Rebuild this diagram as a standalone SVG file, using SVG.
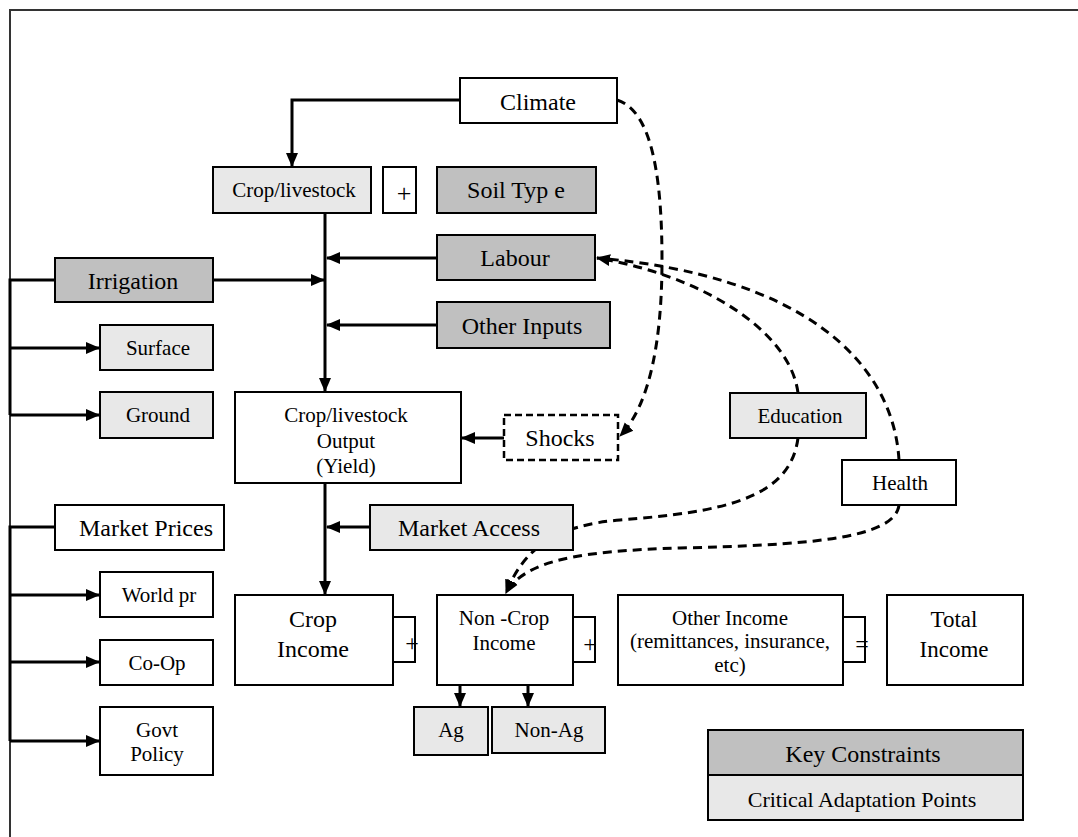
<svg xmlns="http://www.w3.org/2000/svg" width="1078" height="837" viewBox="0 0 1078 837">
<defs>
<style>
.bx{stroke:#000;stroke-width:2;fill:#fff}
.dk{fill:#c0c0c0}
.lt{fill:#e8e8e8}
.t{font-family:"Liberation Serif","Times New Roman",serif;fill:#000;text-anchor:middle}
.b{font-size:24px}
.s{font-size:21px}
.c{fill:none;stroke:#000;stroke-width:3}
.d{fill:none;stroke:#000;stroke-width:3;stroke-dasharray:9 6}
</style>
<marker id="ah" viewBox="0 0 14 14" refX="13" refY="7" markerWidth="14" markerHeight="14" markerUnits="userSpaceOnUse" orient="auto">
<path d="M0,1 L14,7 L0,13 z" fill="#000"/>
</marker>
</defs>
<rect width="1078" height="837" fill="#fff"/>
<rect x="10" y="10" width="1100" height="900" fill="none" stroke="#333" stroke-width="2"/>

<g id="connectors">
<path class="c" d="M460,100 H292 V166" marker-end="url(#ah)"/>
<path class="c" d="M325,213 V391" marker-end="url(#ah)"/>
<path class="c" d="M437,258 H327" marker-end="url(#ah)"/>
<path class="c" d="M437,325 H327" marker-end="url(#ah)"/>
<path class="c" d="M213,280 H324" marker-end="url(#ah)"/>
<path class="c" d="M55,280 H10 V415"/>
<path class="c" d="M10,348 H99" marker-end="url(#ah)"/>
<path class="c" d="M10,415 H99" marker-end="url(#ah)"/>
<path class="c" d="M504,438 H462" marker-end="url(#ah)"/>
<path class="c" d="M325,483 V594" marker-end="url(#ah)"/>
<path class="c" d="M370,527 H327" marker-end="url(#ah)"/>
<path class="c" d="M55,527 H10 V741"/>
<path class="c" d="M10,595 H99" marker-end="url(#ah)"/>
<path class="c" d="M10,662 H99" marker-end="url(#ah)"/>
<path class="c" d="M10,741 H99" marker-end="url(#ah)"/>
<path class="c" d="M460,685 V706" marker-end="url(#ah)"/>
<path class="c" d="M528,685 V706" marker-end="url(#ah)"/>
<path class="d" d="M617,100 C650,110 662,170 662,260 C662,340 650,405 620,436" marker-end="url(#ah)"/>
<path class="d" d="M798,393 C790,330 700,275 597,258" marker-end="url(#ah)"/>
<path class="d" d="M899,460 C893,360 800,275 597,258"/>
<path class="d" d="M798,438 C790,500 720,512 620,520 C560,525 525,545 506,593" marker-end="url(#ah)"/>
<path class="d" d="M899,505 C895,540 800,545 680,548 C580,551 525,560 506,593" marker-end="url(#ah)"/>
</g>

<g id="climate"><rect class="bx" x="460" y="78" width="157" height="45"/><text class="t b" x="538" y="110">Climate</text></g>
<g id="crop-livestock"><rect class="bx lt" x="213" y="167" width="158" height="46"/><text class="t s" x="294" y="197">Crop/livestock</text></g>
<g id="plus-top"><rect class="bx" x="383" y="167" width="33" height="46"/><text class="t" style="font-size:26px" x="404" y="202">+</text></g>
<g id="soil-type"><rect class="bx dk" x="437" y="167" width="159" height="46"/><text class="t b" x="516" y="198">Soil Typ e</text></g>
<g id="labour"><rect class="bx dk" x="437" y="235" width="158" height="45"/><text class="t b" x="515" y="266">Labour</text></g>
<g id="irrigation"><rect class="bx dk" x="55" y="258" width="158" height="44"/><text class="t b" x="133" y="289">Irrigation</text></g>
<g id="other-inputs"><rect class="bx dk" x="437" y="302" width="173" height="46"/><text class="t b" x="522" y="334">Other Inputs</text></g>
<g id="surface"><rect class="bx lt" x="100" y="325" width="113" height="45"/><text class="t s" x="158" y="355">Surface</text></g>
<g id="ground"><rect class="bx lt" x="100" y="392" width="113" height="46"/><text class="t s" x="158" y="422">Ground</text></g>
<g id="output"><rect class="bx" x="235" y="392" width="226" height="91"/>
<text class="t s" x="346" y="422">Crop/livestock</text><text class="t s" x="346" y="448">Output</text><text class="t s" x="346" y="473">(Yield)</text></g>
<g id="shocks"><rect x="504" y="415" width="114" height="45" fill="#fff" stroke="#000" stroke-width="2.5" stroke-dasharray="7 4"/><text class="t b" x="560" y="446">Shocks</text></g>
<g id="education"><rect class="bx lt" x="730" y="393" width="136" height="45"/><text class="t s" x="800" y="423">Education</text></g>
<g id="health"><rect class="bx" x="842" y="460" width="114" height="45"/><text class="t s" x="900" y="490">Health</text></g>
<g id="market-prices"><rect class="bx" x="55" y="505" width="169" height="45"/><text class="t b" x="146" y="536">Market Prices</text></g>
<g id="market-access"><rect class="bx lt" x="370" y="505" width="203" height="45"/><text class="t b" x="469" y="536">Market Access</text></g>
<g id="world-pr"><rect class="bx" x="100" y="572" width="113" height="45"/><text class="t s" x="159" y="602">World pr</text></g>
<g id="co-op"><rect class="bx" x="100" y="640" width="113" height="45"/><text class="t s" x="157" y="670">Co-Op</text></g>
<g id="govt-policy"><rect class="bx" x="100" y="707" width="113" height="68"/><text class="t s" x="157" y="737">Govt</text><text class="t s" x="157" y="761">Policy</text></g>
<g id="crop-income"><rect class="bx" x="235" y="595" width="158" height="90"/><text class="t b" x="313" y="627">Crop</text><text class="t b" x="313" y="657">Income</text></g>
<g id="plus-1"><rect class="bx" x="393" y="617" width="22" height="45"/><text class="t" style="font-size:24px" x="412" y="651">+</text></g>
<g id="non-crop-income"><rect class="bx" x="437" y="595" width="136" height="90"/><text class="t s" x="504" y="625">Non -Crop</text><text class="t s" x="504" y="650">Income</text></g>
<g id="plus-2"><rect class="bx" x="573" y="617" width="22" height="45"/><text class="t" style="font-size:24px" x="590" y="652">+</text></g>
<g id="other-income"><rect class="bx" x="618" y="595" width="225" height="90"/><text class="t s" x="730" y="625">Other Income</text><text class="t s" x="730" y="648">(remittances, insurance,</text><text class="t s" x="730" y="672">etc)</text></g>
<g id="equals"><rect class="bx" x="843" y="617" width="22" height="45"/><text class="t" style="font-size:24px" x="862" y="652">=</text></g>
<g id="total-income"><rect class="bx" x="887" y="595" width="136" height="90"/><text class="t" style="font-size:23px" x="954" y="627">Total</text><text class="t" style="font-size:23px" x="954" y="657">Income</text></g>
<g id="ag"><rect class="bx lt" x="414" y="707" width="74" height="48"/><text class="t s" x="451" y="737">Ag</text></g>
<g id="non-ag"><rect class="bx lt" x="492" y="707" width="113" height="46"/><text class="t s" x="549" y="737">Non-Ag</text></g>
<g id="legend">
<rect class="bx dk" x="708" y="730" width="315" height="45"/><text class="t b" x="863" y="762">Key Constraints</text>
<rect class="bx lt" x="708" y="775" width="315" height="45"/><text class="t" style="font-size:22px" x="862" y="807">Critical Adaptation Points</text>
</g>
</svg>
